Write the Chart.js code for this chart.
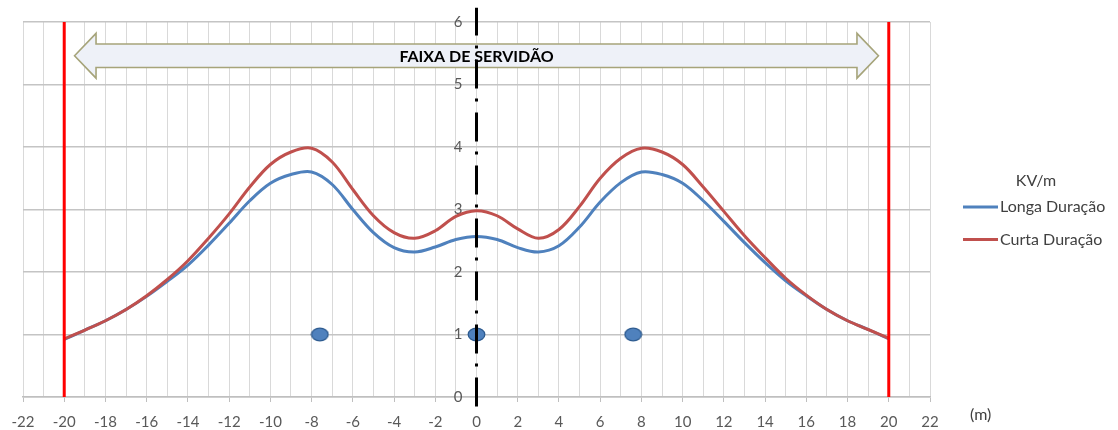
<!DOCTYPE html>
<html>
<head>
<meta charset="utf-8">
<script src="https://cdn.jsdelivr.net/npm/chart.js@4.4.1/dist/chart.umd.min.js"></script>
<style>
  html, body { margin: 0; padding: 0; background: #ffffff; }
  #wrap { width: 1118px; height: 430px; }
</style>
</head>
<body>
<div id="wrap"><canvas id="campo" width="1118" height="430"></canvas></div>
<script>
// Distância ao eixo da linha (m)
const distancias = [-20, -19, -18, -17, -16, -15, -14, -13, -12, -11, -10, -9, -8, -7, -6, -5, -4, -3, -2, -1, 0,
                    1, 2, 3, 4, 5, 6, 7, 8, 9, 10, 11, 12, 13, 14, 15, 16, 17, 18, 19, 20];

// Campo elétrico (kV/m)
const longaDuracao = [0.92, 1.07, 1.22, 1.40, 1.61, 1.85, 2.11, 2.43, 2.78, 3.14, 3.42, 3.56, 3.60, 3.40, 3.00, 2.63, 2.39, 2.32, 2.40, 2.52, 2.57,
                      2.52, 2.39, 2.32, 2.42, 2.72, 3.12, 3.43, 3.60, 3.56, 3.42, 3.14, 2.81, 2.47, 2.15, 1.86, 1.62, 1.40, 1.22, 1.08, 0.93];
const curtaDuracao = [0.93, 1.07, 1.22, 1.40, 1.62, 1.88, 2.18, 2.54, 2.93, 3.36, 3.72, 3.92, 3.98, 3.76, 3.32, 2.90, 2.63, 2.54, 2.66, 2.89, 2.98,
                      2.90, 2.69, 2.54, 2.68, 3.05, 3.50, 3.82, 3.98, 3.92, 3.72, 3.36, 2.97, 2.58, 2.23, 1.90, 1.63, 1.40, 1.22, 1.08, 0.94];

// Posição dos condutores
const condutoresX = [-7.6, 0, 7.6];
const condutoresY = [1, 1, 1];

// Limites da faixa de servidão (m)
const limitesFaixa = [-20, 20];
const faixaSetas = [-19.5, 19.5];
const faixaAltura = 5.46;

// Eixos
const xMin = -22, xMax = 22, xPasso = 1, xRotulo = 2;
const yMin = 0, yMax = 6, yPasso = 1;
const eixoCentralY = [-0.15, 6.23];

const serieNomes = ['Longa Duração', 'Curta Duração'];
const serieCores = ['#4f81bd', '#c0504d'];

const pontos = (xs, ys) => xs.map((x, i) => ({ x: x, y: ys[i] }));

// Marcador elíptico dos condutores
const marcador = document.createElement('canvas');
marcador.width = 19; marcador.height = 15;
(function () {
  const g = marcador.getContext('2d');
  g.beginPath();
  g.ellipse(9.5, 7.5, 8.3, 6.3, 0, 0, Math.PI * 2);
  g.fillStyle = '#4f81bd';
  g.fill();
  g.lineWidth = 1.3;
  g.strokeStyle = '#2c5a8f';
  g.stroke();
})();

const datasets = [
  {
    label: serieNomes[0], data: pontos(distancias, longaDuracao),
    borderColor: serieCores[0], borderWidth: 3, pointRadius: 0, tension: 0.35, order: 6
  },
  {
    label: serieNomes[1], data: pontos(distancias, curtaDuracao),
    borderColor: serieCores[1], borderWidth: 3, pointRadius: 0, tension: 0.35, order: 5
  }
];
limitesFaixa.forEach(x => datasets.push({
  label: 'limite', data: [{ x: x, y: yMin }, { x: x, y: yMax }],
  borderColor: '#ff0000', borderWidth: 3, pointRadius: 0, order: 4
}));
datasets.push({
  label: 'condutores', type: 'scatter', data: pontos(condutoresX, condutoresY),
  pointStyle: marcador, pointRadius: 8, order: 3
});
datasets.push({
  label: 'eixo', data: [{ x: 0, y: eixoCentralY[0] }, { x: 0, y: eixoCentralY[1] }],
  borderColor: '#000000', borderWidth: 3, borderDash: [29, 11, 3, 10], borderCapStyle: 'butt',
  pointRadius: 0, clip: false, order: 1
});

// Seta da faixa de servidão e rótulos do eixo vertical
const faixaPlugin = {
  id: 'faixa',
  beforeDatasetsDraw(chart) {
    const xs = chart.scales.x, ys = chart.scales.y, ctx = chart.ctx;
    const L = xs.getPixelForValue(faixaSetas[0]);
    const R = xs.getPixelForValue(faixaSetas[1]);
    const cy = ys.getPixelForValue(faixaAltura);
    const hh = 22.4, sh = 11.7, hl = 21.5;
    ctx.save();
    ctx.beginPath();
    ctx.moveTo(L, cy);
    ctx.lineTo(L + hl, cy - hh);
    ctx.lineTo(L + hl, cy - sh);
    ctx.lineTo(R - hl, cy - sh);
    ctx.lineTo(R - hl, cy - hh);
    ctx.lineTo(R, cy);
    ctx.lineTo(R - hl, cy + hh);
    ctx.lineTo(R - hl, cy + sh);
    ctx.lineTo(L + hl, cy + sh);
    ctx.lineTo(L + hl, cy + hh);
    ctx.closePath();
    ctx.fillStyle = '#eef1f8';
    ctx.fill();
    ctx.lineWidth = 1.6;
    ctx.strokeStyle = '#a6a47a';
    ctx.lineJoin = 'miter';
    ctx.stroke();
    ctx.fillStyle = '#000000';
    ctx.font = 'bold 16px Lato';
    ctx.textAlign = 'center';
    ctx.textBaseline = 'middle';
    ctx.fillText('FAIXA DE SERVIDÃO', xs.getPixelForValue(0), cy + 1);

    // rótulos do eixo vertical, à esquerda do eixo central
    const ax = xs.getPixelForValue(0);
    ctx.fillStyle = '#595959';
    ctx.font = '15px Lato';
    ctx.textAlign = 'right';
    ys.ticks.forEach(t => {
      ctx.fillText(String(t.value), ax - 14, ys.getPixelForValue(t.value));
    });
    ctx.restore();
  }
};

// Legenda e unidade do eixo horizontal
const legendaPlugin = {
  id: 'legenda',
  afterDraw(chart) {
    const ctx = chart.ctx, a = chart.chartArea;
    ctx.save();
    ctx.fillStyle = '#404040';
    ctx.font = '16px Lato';
    ctx.textBaseline = 'middle';
    ctx.textAlign = 'center';
    ctx.fillText('KV/m', a.right + 106, 181);
    ctx.textAlign = 'left';
    serieNomes.forEach((nome, i) => {
      const y = 207 + i * 32.5;
      ctx.strokeStyle = serieCores[i];
      ctx.lineWidth = 3;
      ctx.beginPath();
      ctx.moveTo(a.right + 33, y);
      ctx.lineTo(a.right + 68, y);
      ctx.stroke();
      ctx.fillStyle = '#404040';
      ctx.fillText(nome, a.right + 70, y);
    });
    ctx.fillStyle = '#404040';
    ctx.fillText('(m)', a.right + 40, a.bottom + 18);
    ctx.restore();
  }
};

new Chart(document.getElementById('campo'), {
  type: 'line',
  data: { datasets: datasets },
  options: {
    responsive: false,
    animation: false,
    events: [],
    layout: { padding: { left: 23, right: 188, top: 22, bottom: 0 } },
    plugins: { legend: { display: false }, tooltip: { enabled: false } },
    scales: {
      x: {
        type: 'linear', min: xMin, max: xMax,
        afterFit: s => { s.height = 33; },
        ticks: {
          stepSize: xPasso, autoSkip: false, maxRotation: 0,
          color: '#595959', font: { family: 'Lato', size: 15 }, padding: 11,
          callback: v => (v % xRotulo === 0 ? String(v) : '')
        },
        grid: {
          color: '#d9d9d9', lineWidth: 1, tickLength: 5,
          tickColor: c => (c.tick && c.tick.value % xRotulo === 0 ? '#bfbfbf' : 'rgba(0,0,0,0)')
        },
        border: { color: '#bfbfbf', width: 1.5 }
      },
      y: {
        type: 'linear', min: yMin, max: yMax, position: { x: 0 },
        ticks: { stepSize: yPasso, display: false },
        grid: { color: '#c4c4c4', lineWidth: 1.5, drawTicks: false },
        border: { display: false }
      }
    }
  },
  plugins: [faixaPlugin, legendaPlugin]
});
</script>
</body>
</html>
